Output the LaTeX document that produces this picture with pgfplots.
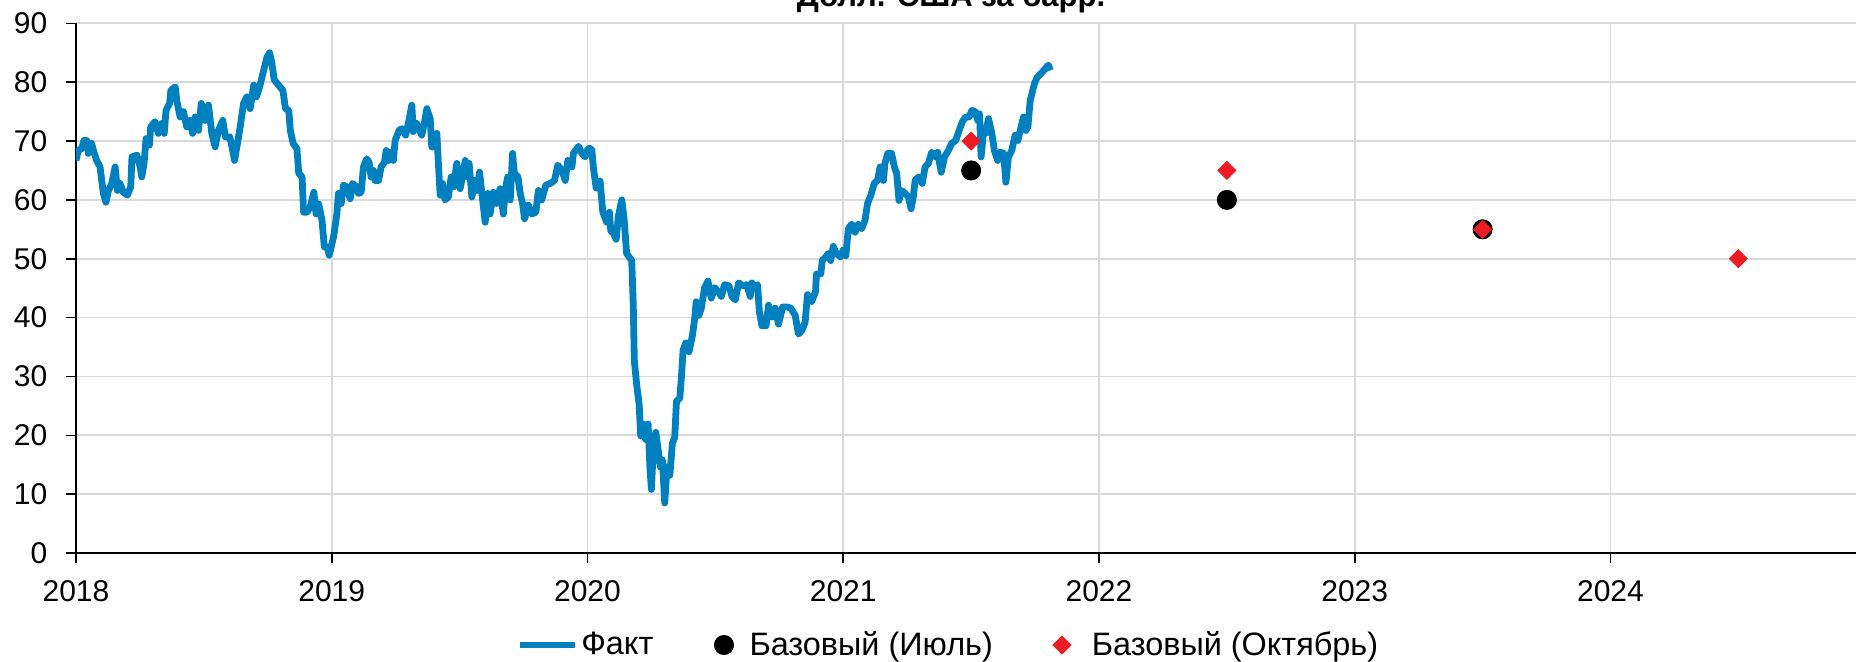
\documentclass[border=0pt]{standalone}
\usepackage{fontspec}
\setmainfont{Liberation Sans}
\usepackage{pgfplots}
\usepackage{pgfplotstable}
\pgfplotsset{compat=1.18}
\definecolor{fakt}{RGB}{0,128,190}
\definecolor{octc}{RGB}{237,28,36}
\definecolor{gridc}{RGB}{217,217,217}
\pgfplotsset{
  lineleg/.style={legend image code/.code={\draw[##1] (0pt,0pt) -- (27.5pt,0pt);}},
  markleg/.style={legend image code/.code={\draw[##1] plot coordinates {(0pt,0pt)};}},
}

\pgfplotstableread{
x y
2018.000 66.7
2018.009 68.4
2018.022 68.7
2018.031 70.1
2018.042 70.1
2018.048 67.9
2018.061 69.6
2018.070 68.1
2018.081 66.7
2018.094 65.6
2018.107 61.1
2018.117 59.6
2018.127 61.6
2018.140 62.8
2018.153 65.6
2018.162 61.6
2018.172 62.8
2018.185 61.3
2018.201 60.8
2018.214 62.2
2018.219 67.3
2018.238 67.6
2018.251 65.6
2018.257 63.9
2018.266 66.2
2018.274 70.4
2018.287 69.3
2018.292 72.4
2018.309 73.3
2018.322 71.3
2018.336 73.0
2018.345 71.3
2018.352 75.2
2018.366 76.4
2018.371 78.6
2018.388 79.2
2018.394 76.9
2018.407 74.1
2018.420 75.0
2018.433 72.4
2018.446 73.5
2018.456 71.3
2018.466 74.1
2018.479 71.8
2018.490 76.4
2018.505 73.5
2018.518 76.1
2018.531 71.3
2018.544 69.0
2018.557 71.8
2018.574 73.5
2018.584 70.7
2018.601 70.7
2018.610 69.0
2018.620 66.7
2018.629 69.0
2018.642 72.4
2018.655 76.4
2018.668 77.5
2018.681 75.5
2018.695 79.5
2018.705 77.5
2018.718 79.2
2018.731 81.5
2018.747 84.3
2018.757 85.0
2018.766 83.2
2018.775 80.4
2018.792 79.5
2018.809 78.6
2018.819 75.5
2018.832 75.2
2018.838 71.8
2018.849 69.6
2018.864 68.7
2018.871 64.5
2018.884 63.9
2018.890 57.9
2018.903 57.9
2018.916 58.8
2018.930 61.3
2018.939 57.6
2018.949 59.3
2018.962 56.5
2018.971 52.0
2018.982 52.0
2018.990 50.6
2019.007 53.7
2019.020 57.6
2019.026 61.1
2019.037 59.4
2019.046 62.5
2019.059 62.2
2019.072 60.2
2019.081 62.8
2019.098 62.2
2019.104 61.1
2019.115 61.3
2019.124 65.6
2019.137 67.0
2019.146 66.4
2019.154 63.9
2019.163 65.0
2019.169 63.3
2019.183 63.3
2019.193 65.6
2019.206 66.4
2019.213 68.4
2019.222 66.7
2019.232 68.1
2019.241 66.7
2019.248 70.1
2019.263 71.8
2019.274 72.1
2019.289 71.0
2019.302 73.5
2019.313 76.1
2019.319 71.6
2019.332 73.0
2019.352 71.0
2019.362 73.0
2019.372 75.5
2019.385 73.8
2019.391 69.0
2019.402 69.0
2019.411 71.3
2019.417 66.2
2019.424 60.8
2019.433 62.8
2019.443 60.0
2019.456 60.5
2019.467 63.9
2019.476 62.2
2019.489 66.2
2019.502 61.9
2019.511 63.9
2019.522 66.7
2019.532 63.9
2019.537 66.2
2019.548 60.5
2019.558 63.3
2019.567 61.6
2019.578 64.7
2019.587 61.1
2019.600 56.2
2019.610 61.1
2019.619 57.6
2019.632 61.3
2019.645 59.4
2019.658 61.9
2019.671 57.6
2019.678 61.6
2019.688 63.9
2019.698 60.0
2019.707 67.9
2019.714 64.5
2019.728 63.9
2019.737 61.1
2019.746 59.4
2019.754 56.8
2019.769 59.1
2019.782 57.6
2019.798 57.9
2019.808 61.6
2019.821 60.0
2019.837 62.5
2019.854 62.8
2019.871 63.3
2019.884 65.9
2019.900 65.0
2019.913 63.3
2019.923 66.7
2019.939 65.6
2019.945 67.9
2019.965 69.1
2019.978 67.9
2019.991 67.3
2020.000 68.5
2020.008 68.8
2020.017 68.5
2020.023 65.5
2020.034 62.0
2020.049 63.2
2020.060 57.9
2020.075 56.2
2020.086 57.9
2020.091 54.7
2020.101 54.4
2020.112 53.3
2020.121 57.3
2020.134 60.0
2020.143 56.8
2020.153 50.9
2020.173 49.7
2020.179 42.1
2020.183 32.8
2020.192 28.7
2020.202 25.2
2020.208 19.9
2020.218 21.9
2020.227 19.3
2020.237 21.9
2020.244 14.6
2020.250 10.8
2020.257 17.6
2020.267 20.5
2020.276 17.6
2020.285 14.6
2020.293 15.8
2020.302 8.5
2020.311 14.6
2020.322 13.2
2020.332 18.7
2020.341 19.6
2020.348 25.8
2020.361 26.3
2020.367 29.8
2020.374 34.5
2020.384 35.7
2020.397 34.2
2020.410 36.9
2020.419 39.8
2020.425 42.7
2020.436 40.4
2020.445 41.6
2020.458 45.1
2020.471 46.2
2020.484 43.3
2020.497 45.1
2020.510 44.5
2020.523 43.6
2020.536 45.6
2020.553 45.4
2020.565 43.6
2020.578 43.0
2020.591 45.9
2020.607 45.4
2020.623 45.6
2020.636 43.6
2020.643 45.9
2020.652 45.1
2020.665 45.6
2020.672 41.0
2020.682 38.6
2020.698 38.6
2020.708 42.1
2020.721 40.1
2020.734 41.6
2020.747 38.9
2020.763 41.8
2020.782 41.8
2020.795 41.6
2020.812 40.4
2020.825 37.2
2020.838 37.8
2020.851 39.2
2020.860 43.9
2020.877 42.7
2020.892 44.5
2020.895 47.4
2020.912 47.4
2020.918 49.7
2020.931 50.3
2020.942 50.9
2020.951 49.7
2020.961 52.1
2020.973 50.9
2020.990 50.3
2021.000 51.5
2021.010 50.5
2021.020 55.1
2021.033 55.9
2021.046 54.5
2021.059 55.9
2021.072 55.1
2021.085 56.5
2021.095 59.4
2021.108 60.8
2021.121 62.8
2021.134 63.3
2021.144 65.6
2021.157 63.3
2021.163 66.2
2021.174 67.9
2021.189 67.9
2021.200 65.6
2021.209 64.5
2021.218 59.9
2021.228 61.6
2021.242 61.1
2021.255 60.5
2021.265 58.5
2021.274 60.5
2021.281 63.3
2021.294 63.9
2021.309 62.8
2021.320 65.6
2021.333 66.2
2021.346 68.1
2021.359 67.3
2021.369 68.1
2021.383 64.7
2021.396 67.3
2021.411 68.4
2021.424 69.6
2021.440 70.1
2021.453 71.8
2021.466 73.3
2021.479 74.1
2021.492 74.1
2021.503 75.2
2021.516 75.0
2021.526 73.5
2021.533 74.6
2021.539 67.3
2021.548 71.3
2021.557 71.3
2021.568 73.8
2021.581 71.3
2021.591 68.4
2021.604 66.7
2021.614 68.1
2021.627 67.9
2021.636 63.0
2021.646 67.3
2021.659 68.4
2021.672 71.0
2021.683 70.1
2021.692 71.8
2021.705 74.1
2021.714 71.8
2021.722 72.4
2021.731 76.9
2021.748 79.8
2021.758 80.8
2021.776 81.6
2021.788 82.2
2021.802 82.9
2021.810 82.0
}\fakttable

\pgfplotstableread{
x y
2021.5 65
2022.5 60
2023.5 55
}\julytable

\pgfplotstableread{
x y
2021.5 70
2022.5 65
2023.5 55
2024.5 50
}\octtable

\begin{document}
\begin{tikzpicture}
\begin{axis}[
  scale only axis,
  width=890pt, height=264.85pt,
  xmin=2018, xmax=2024.96, ymin=0, ymax=90,
  xtick={2018,2019,2020,2021,2022,2023,2024},
  ytick={0,10,20,30,40,50,60,70,80,90},
  axis lines=left,
  axis line style={-, black, line width=0.8pt},
  tick align=outside,
  major tick length=4.8pt,
  tick style={black, line width=0.8pt},
  grid=major,
  major grid style={gridc, line width=0.9pt},
  /pgf/number format/1000 sep={},
  /pgf/number format/assume math mode=true,
  ticklabel style={font=\fontsize{15}{17}\selectfont, inner sep=0pt},
  xticklabel shift=9.0pt,
  yticklabel shift=9.4pt,
  title={Долл. США за барр.},
  title style={at={(0.4916,1)}, anchor=base, yshift=2.6pt, inner sep=0pt,
               font=\bfseries\fontsize{15.5}{18}\selectfont},
  legend columns=3,
  legend style={at={(0.2475,-0.1737)}, anchor=west, draw=none, fill=none,
    inner sep=0pt, outer sep=0pt,
    font=\fontsize{16.2}{18}\selectfont,
    nodes={inner sep=0pt},
    /tikz/column 1/.style={column sep=1.5pt},
    /tikz/column 2/.style={column sep=30.5pt},
    /tikz/column 3/.style={column sep=8pt},
    /tikz/column 4/.style={column sep=30pt},
    /tikz/column 5/.style={column sep=10.5pt}},
]
\addplot[fakt, line width=3.4pt, line join=round, no marks, lineleg]
  table[x=x, y=y] {\fakttable};
\addlegendentry{Факт}
\addplot[only marks, mark=*, mark size=4.8pt, black,
  mark options={fill=black, draw=black}, markleg]
  table[x=x, y=y] {\julytable};
\addlegendentry{Базовый (Июль)}
\addplot[only marks, mark=square*, mark size=3.2pt, octc,
  mark options={fill=octc, draw=octc, rotate=45}, markleg]
  table[x=x, y=y] {\octtable};
\addlegendentry{Базовый (Октябрь)}
\end{axis}
\pgfresetboundingbox
\path[use as bounding box] (-38pt,-54pt) rectangle (890pt,276.5pt);
\end{tikzpicture}
\end{document}
